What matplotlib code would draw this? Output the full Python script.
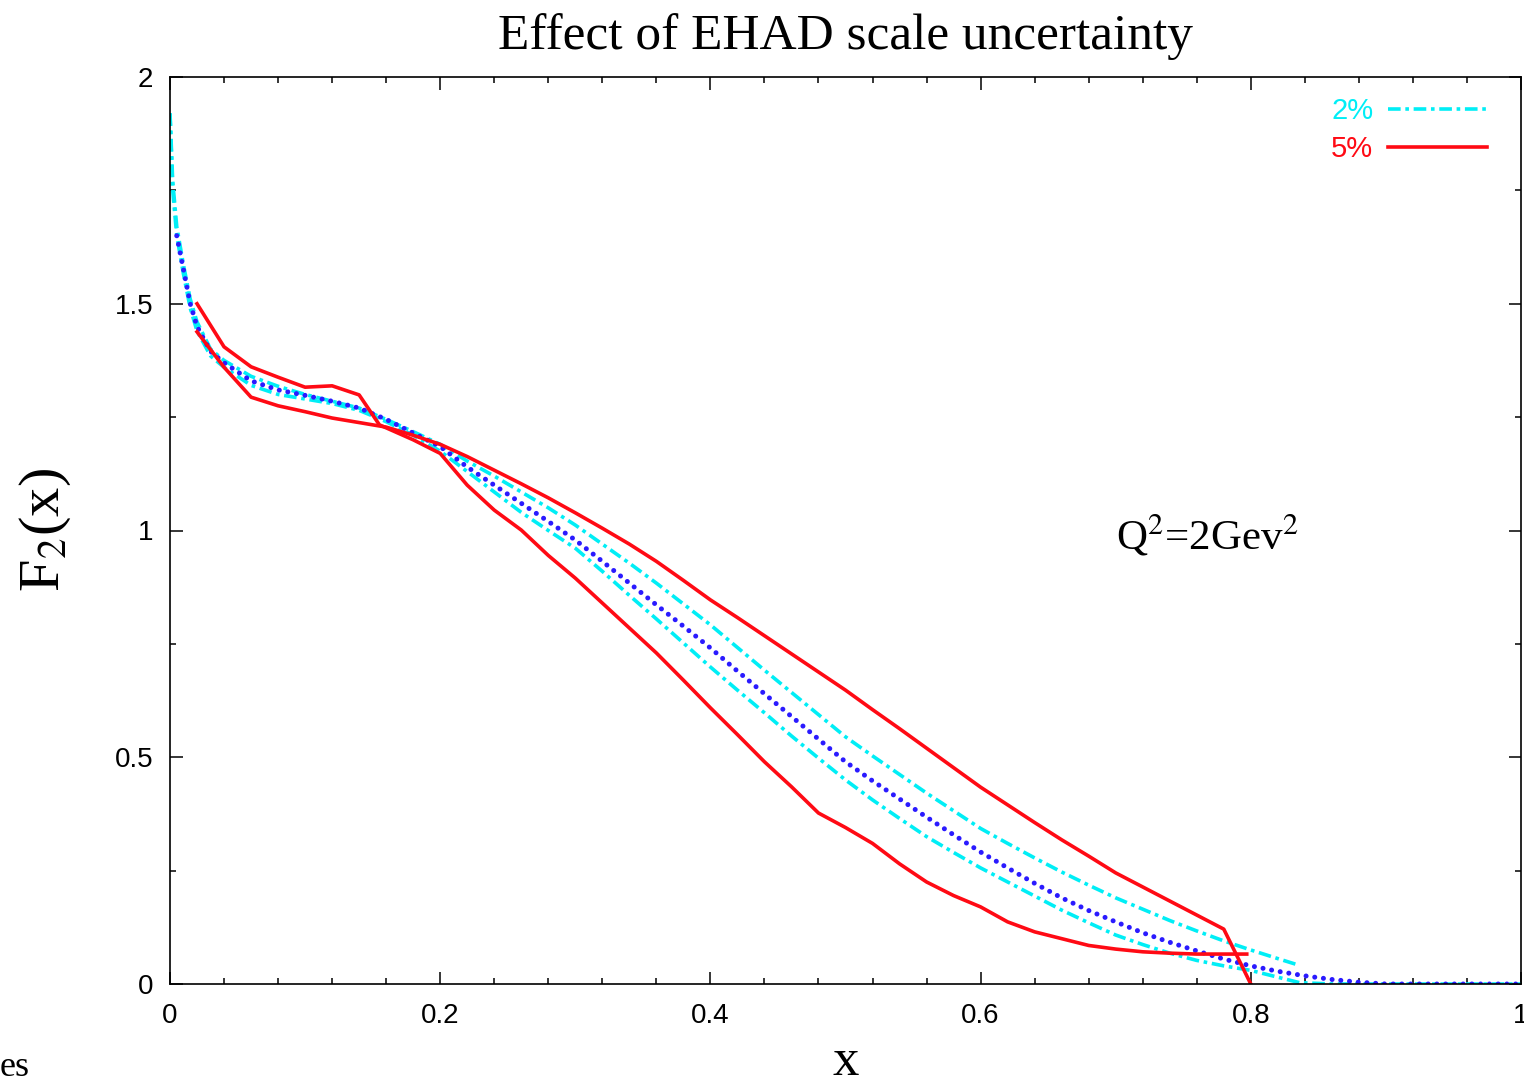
import matplotlib
matplotlib.use("Agg")
import matplotlib.pyplot as plt
from matplotlib.ticker import MultipleLocator

# ---------------- data ----------------
grid = [0.20, 0.22, 0.24, 0.26, 0.28, 0.30, 0.32, 0.34, 0.36, 0.38, 0.40,
        0.42, 0.44, 0.46, 0.48, 0.50, 0.52, 0.54, 0.56, 0.58, 0.60, 0.62,
        0.64, 0.66, 0.68, 0.70, 0.72, 0.74, 0.76, 0.78, 0.80]
low_x = [0.0, 0.002, 0.005, 0.01, 0.015, 0.02, 0.03, 0.04, 0.06, 0.08,
         0.10, 0.12, 0.14, 0.16, 0.18]

# central value (blue dotted)
central_x = low_x[2:] + grid + [0.82, 0.84, 0.86, 0.88, 0.90, 1.0]
central_y = [1.65, 1.575, 1.50, 1.45, 1.395, 1.37, 1.33, 1.31, 1.298, 1.285,
             1.27, 1.245, 1.215,
             1.185, 1.14, 1.10, 1.06, 1.02, 0.979, 0.932, 0.884, 0.836, 0.789,
             0.741, 0.69, 0.64, 0.59, 0.54, 0.49, 0.448, 0.408, 0.368, 0.329,
             0.291, 0.256, 0.222, 0.19, 0.162, 0.137, 0.113, 0.092, 0.073,
             0.055, 0.04,
             0.028, 0.018, 0.010, 0.004, 0.0, 0.0]

# 2% band (cyan dash-dot)
cyan_hi_x = low_x + grid + [0.82, 0.835]
cyan_hi_y = [1.92, 1.77, 1.67, 1.585, 1.51, 1.46, 1.40, 1.375, 1.34, 1.318,
             1.30, 1.285, 1.27, 1.245, 1.218,
             1.19, 1.153, 1.12, 1.085, 1.05, 1.012, 0.97, 0.928, 0.884, 0.838,
             0.792, 0.742, 0.692, 0.643, 0.594, 0.545, 0.503, 0.462, 0.421,
             0.382, 0.343, 0.31, 0.278, 0.247, 0.218, 0.19, 0.165, 0.14,
             0.117, 0.095, 0.075,
             0.056, 0.042]
cyan_lo_x = low_x + grid + [0.82, 0.836, 0.86, 1.0]
cyan_lo_y = [1.92, 1.75, 1.65, 1.565, 1.49, 1.44, 1.385, 1.36, 1.32, 1.30,
             1.29, 1.28, 1.265, 1.24, 1.21,
             1.175, 1.13, 1.085, 1.04, 1.0, 0.961, 0.91, 0.857, 0.805, 0.752,
             0.699, 0.648, 0.598, 0.547, 0.498, 0.45, 0.406, 0.365, 0.325,
             0.29, 0.256, 0.225, 0.194, 0.163, 0.135, 0.108, 0.087, 0.068,
             0.052, 0.04, 0.03,
             0.015, 0.003, 0.0, 0.0]

# 5% band (red solid)
red_a_x = [0.02, 0.04, 0.06, 0.08, 0.10, 0.12, 0.14, 0.16, 0.18] + grid[:-1] + [0.80]
red_a_y = [1.438, 1.36, 1.294, 1.275, 1.262, 1.248, 1.238, 1.228, 1.21,
           1.19, 1.163, 1.133, 1.103, 1.072, 1.039, 1.005, 0.97, 0.932, 0.89,
           0.847, 0.808, 0.768, 0.728, 0.688, 0.648, 0.605, 0.563, 0.52,
           0.477, 0.434, 0.395, 0.356, 0.318, 0.282, 0.245, 0.214, 0.183,
           0.152, 0.121, 0.0]
red_b_x = [0.02, 0.04, 0.06, 0.08, 0.10, 0.12, 0.14, 0.155, 0.18] + grid[:-1] + [0.797]
red_b_y = [1.50, 1.405, 1.361, 1.338, 1.316, 1.319, 1.299, 1.233, 1.20,
           1.17, 1.10, 1.045, 1.001, 0.945, 0.895, 0.84, 0.785, 0.73, 0.67,
           0.609, 0.55, 0.49, 0.435, 0.377, 0.345, 0.31, 0.265, 0.225, 0.195,
           0.17, 0.137, 0.115, 0.10, 0.085, 0.077, 0.071, 0.068, 0.066,
           0.066, 0.066]

title = "Effect of EHAD scale uncertainty"
x_ticks = [0, 0.2, 0.4, 0.6, 0.8, 1]
x_ticklabels = ["0", "0.2", "0.4", "0.6", "0.8", "1"]
y_ticks = [0, 0.5, 1, 1.5, 2]
y_ticklabels = ["0", "0.5", "1", "1.5", "2"]

# ---------------- styling ----------------
plt.rcParams["font.family"] = ["Liberation Sans", "DejaVu Sans"]
plt.rcParams["mathtext.fontset"] = "stix"
SERIF = ["Liberation Serif", "DejaVu Serif"]

CYAN = "#00eef6"
RED = "#ff0a14"
BLUE = "#2a1aff"

fig = plt.figure(figsize=(15.24, 10.83), dpi=100)
ax = fig.add_axes([170 / 1524, 1 - 984 / 1083, (1521 - 170) / 1524, (984 - 77) / 1083])

lw = 2.6
dashdot = (0, (3.5, 1.3, 1.0, 1.3))
ax.plot(cyan_hi_x, cyan_hi_y, color=CYAN, lw=lw, linestyle=dashdot, label="2%")
ax.plot(cyan_lo_x, cyan_lo_y, color=CYAN, lw=lw, linestyle=dashdot)
ax.plot(central_x, central_y, color=BLUE, lw=3.6, linestyle=(0, (0.01, 1.74)),
        dash_capstyle="round")
ax.plot(red_a_x, red_a_y, color=RED, lw=lw, label="5%")
ax.plot(red_b_x, red_b_y, color=RED, lw=lw)

ax.set_xlim(0, 1)
ax.set_ylim(0, 2)
ax.set_xticks(x_ticks)
ax.set_xticklabels(x_ticklabels)
ax.set_yticks(y_ticks)
ax.set_yticklabels(y_ticklabels)
ax.xaxis.set_minor_locator(MultipleLocator(0.04))
ax.yaxis.set_minor_locator(MultipleLocator(0.25))
ax.tick_params(which="both", direction="in", top=True, right=True, width=1.1,
               labelsize=20, colors="black")
ax.tick_params(which="major", length=9)
ax.tick_params(which="minor", length=4.5)
ax.tick_params(axis="x", which="major", pad=14)
ax.tick_params(axis="y", which="major", pad=12)
for s in ax.spines.values():
    s.set_linewidth(1.2)

ax.set_title(title, fontsize=37, family=SERIF, pad=20)
ax.set_xlabel("x", fontsize=38, family=SERIF, labelpad=6)
ax.set_ylabel("F$_2$(x)", fontsize=42, family=SERIF, labelpad=30)

ax.text(0.70, 0.99, "Q$^2$=2Gev$^2$", fontsize=31, family=SERIF,
        va="center", ha="left")

leg = ax.legend(loc="upper right", bbox_to_anchor=((1487 - 170) / 1351, (984 - 97) / 907),
                frameon=False, markerfirst=False, fontsize=21, handlelength=3.4,
                handletextpad=0.5, labelspacing=0.35, borderpad=0, borderaxespad=0,
                labelcolor="linecolor")

fig.text(0.0, 1 - 1068 / 1083, "es", fontsize=26, family=SERIF, va="center", ha="left")

fig.savefig("out.png", dpi=100)
